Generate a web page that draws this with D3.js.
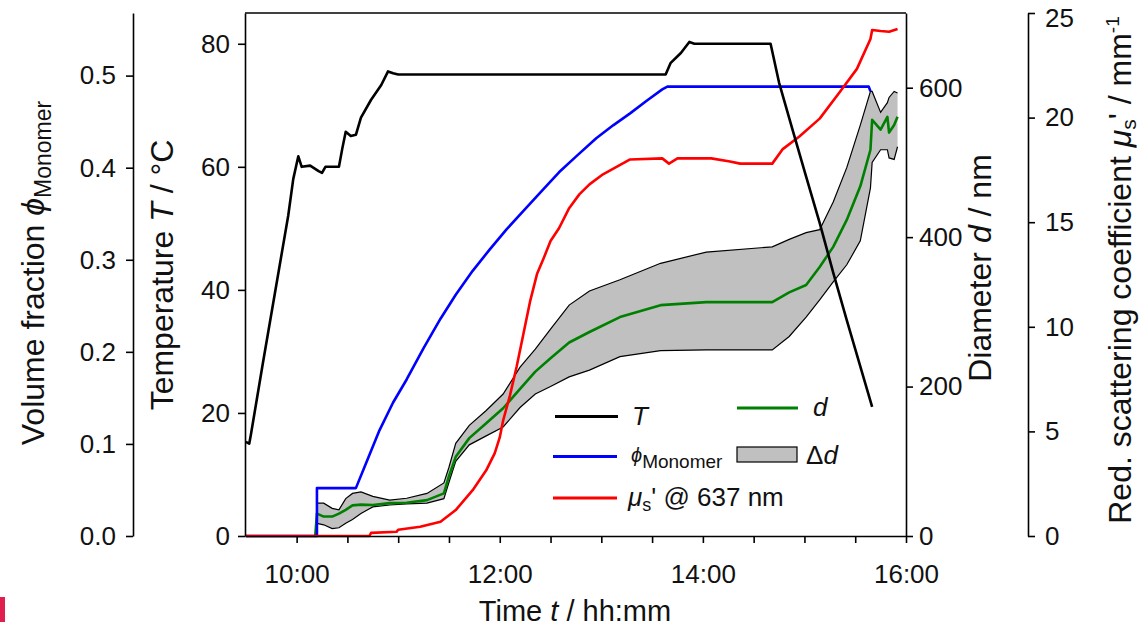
<!DOCTYPE html>
<html><head><meta charset="utf-8">
<script src="https://cdn.jsdelivr.net/npm/d3@7"></script>
<style>
html,body{margin:0;padding:0;background:#fff;}
svg{display:block;font-family:"Liberation Sans",Arial,sans-serif;}
</style></head>
<body><svg id="c" width="1144" height="629"></svg>
<script>
// ---- data (time as hh:mm) ----
const tempTime = ["09:30","09:32","09:33","09:40","09:45","09:50","09:55","09:58","10:00","10:01","10:03","10:08","10:13","10:15","10:17","10:22","10:25","10:27","10:29","10:32","10:35","10:38","10:44","10:50","10:54","10:57","11:00","11:30","12:00","12:30","13:00","13:38","13:41","13:47","13:52","13:55","14:40","14:45","14:53","15:01","15:09","15:17","15:25","15:40"];
const tempValue = [15.3,15.0,16.5,28,36,44,52,58,60.5,61.7,60,60.2,59.3,59.0,60,60,60,63,65.7,65,65.2,68,70.9,73.3,75.5,75.2,75.0,75.0,75.0,75.0,75.0,75.0,76.9,78.5,80.3,80.0,80.0,73.7,66,58.4,50.9,42.8,35.1,21];

const phiTime = ["09:30","10:12","10:12","10:35","10:41","10:49","10:57","11:05","11:15","11:25","11:34","11:44","11:54","12:04","12:14","12:25","12:35","12:45","12:57","13:07","13:17","13:27","13:36","13:39","15:38","15:39"];
const phiValue = [0,0,0.052,0.052,0.079,0.115,0.145,0.170,0.204,0.236,0.262,0.288,0.311,0.333,0.353,0.375,0.395,0.412,0.432,0.446,0.459,0.473,0.485,0.488,0.488,0.483];

const muTime = ["09:30","10:43","10:44","10:59","11:00","11:13","11:25","11:34","11:44","11:52","11:57","12:00","12:02","12:06","12:10","12:14","12:18","12:22","12:26","12:30","12:35","12:41","12:47","12:53","13:01","13:17","13:36","13:40","13:45","14:05","14:16","14:22","14:41","14:47","14:57","15:09","15:21","15:31","15:39","15:40","15:45","15:50","15:55"];
const muValue = [0,0,0.15,0.2,0.3,0.44,0.68,1.24,2.19,3.14,3.95,4.71,5.52,6.71,8.1,9.67,11.24,12.52,13.29,14.1,14.71,15.67,16.33,16.81,17.29,18.0,18.05,17.8,18.05,18.05,17.9,17.8,17.8,18.48,19.1,19.95,21.24,22.33,23.76,24.19,24.14,24.1,24.24];

const dTime = ["10:11","10:12","10:16","10:21","10:25","10:29","10:33","10:38","10:45","10:55","11:05","11:17","11:27","11:30","11:34","11:42","11:52","12:02","12:12","12:21","12:30","12:41","12:53","13:11","13:35","14:02","14:41","14:51","15:01","15:09","15:17","15:25","15:33","15:39","15:40","15:45","15:49","15:50","15:53","15:55"];
const dMean = [0,30,26,26,30,35,41,42,41.5,44,44.6,48,57,80,106,131,151,171,197,220,238,259,273,293,309,313,313,326,336,360,387,423,468,517,557,544,561,540,550,561];
const dLow  = [null,17,15,10,11,17,22,30,39,41.5,43,44,50,72,100,122,134,146,172,190,200,213,222,240,248,249,249,267,293,316,340,363,395,466,500,517,517,506,504,521];
const dHigh = [null,44,44,37,35,50,57,59,53,48,50.5,57,71,92,124,148,168,190,226,250,277,309,328,343,365,380,387,397,406,410,447,493,550,595,595,567,580,587,595,593];

const xTicks = ["10:00","10:30","11:00","11:30","12:00","12:30","13:00","13:30","14:00","14:30","15:00","15:30","16:00"];
const xLabels = ["10:00","12:00","14:00","16:00"];
const phiTicks = [0,0.1,0.2,0.3,0.4,0.5];
const tempTicks = [0,20,40,60,80];
const dTicks = [0,200,400,600];
const muTicks = [0,5,10,15,20,25];

// ---- helpers ----
const toMin = s => { const p = s.split(":"); return +p[0]*60 + +p[1]; };
const fmtHM = m => String(Math.floor(m/60)).padStart(2,"0")+":"+String(m%60).padStart(2,"0");

const svg = d3.select("#c");
const L = 245, R = 906, T = 13, B = 536;
const textCol = "#111";

const x = d3.scaleLinear().domain([toMin("09:29")+0.5, toMin("16:00")]).range([L, R]);
const yT = d3.scaleLinear().domain([0,85]).range([B,T]);
const yPhi = d3.scaleLinear().domain([0,0.568]).range([B,T]);
const yD = d3.scaleLinear().domain([0,700]).range([B,T]);
const yMu = d3.scaleLinear().domain([0,25]).range([B,13]);

// ---- band ----
const idx = d3.range(dTime.length);
const band = svg.append("g");
band.append("path").datum(idx)
  .attr("fill","#c0c0c0")
  .attr("d", d3.area().defined(i => dLow[i]!=null)
    .x(i => x(toMin(dTime[i]))).y0(i => yD(dLow[i])).y1(i => yD(dHigh[i])));
[dLow, dHigh].forEach(arr => {
  band.append("path").datum(idx).attr("fill","none").attr("stroke","#000").attr("stroke-width",1.2)
    .attr("d", d3.line().defined(i => arr[i]!=null).x(i => x(toMin(dTime[i]))).y(i => yD(arr[i])));
});

function drawLine(times, vals, yScale, color){
  svg.append("path").datum(d3.range(times.length))
    .attr("fill","none").attr("stroke",color).attr("stroke-width",2.6)
    .attr("stroke-linejoin","round")
    .attr("d", d3.line().x(i => x(toMin(times[i]))).y(i => yScale(vals[i])));
}
drawLine(dTime, dMean, yD, "#008000");
drawLine(phiTime, phiValue, yPhi, "#0000ff");
drawLine(muTime, muValue, yMu, "#ff0000");
drawLine(tempTime, tempValue, yT, "#000000");

// ---- axes ----
function styleAxis(g, fs){
  g.selectAll("path.domain").attr("stroke","#000").attr("stroke-width",1.6);
  g.selectAll(".tick line").attr("stroke","#000").attr("stroke-width",1.6);
  g.selectAll(".tick text").attr("fill",textCol).attr("font-size",fs).attr("font-family","Liberation Sans, Arial, sans-serif");
}
svg.append("line").attr("x1",L).attr("x2",R).attr("y1",T).attr("y2",T).attr("stroke","#000").attr("stroke-width",1.6);

const gx = svg.append("g").attr("transform",`translate(0,${B})`)
  .call(d3.axisBottom(x).tickValues(xTicks.map(toMin)).tickSize(7).tickSizeOuter(0).tickPadding(22)
    .tickFormat(m => xLabels.includes(fmtHM(m)) ? fmtHM(m) : ""));
styleAxis(gx, 26);

const gT = svg.append("g").attr("transform",`translate(${L},0)`)
  .call(d3.axisLeft(yT).tickValues(tempTicks).tickSize(7).tickSizeOuter(0).tickPadding(8));
styleAxis(gT, 26);

const gP = svg.append("g").attr("transform",`translate(133,0)`)
  .call(d3.axisLeft(yPhi).tickValues(phiTicks).tickFormat(d3.format(".1f")).tickSize(7).tickSizeOuter(0).tickPadding(10));
styleAxis(gP, 26);

const gD = svg.append("g").attr("transform",`translate(${R},0)`)
  .call(d3.axisRight(yD).tickValues(dTicks).tickSize(7).tickSizeOuter(0).tickPadding(6));
styleAxis(gD, 26);

const gM = svg.append("g").attr("transform",`translate(1028,0)`)
  .call(d3.axisRight(yMu).tickValues(muTicks).tickSize(7).tickSizeOuter(0).tickPadding(10));
styleAxis(gM, 26);
// keep the top label inside the picture
gM.selectAll(".tick text").filter(d => d === 25).attr("dy","0.5em");

// ---- titles ----
function vTitle(cx, cy, parts, fs){
  const t = svg.append("text").attr("transform",`translate(${cx},${cy}) rotate(-90)`)
    .attr("text-anchor","middle").attr("fill",textCol).attr("font-size",fs);
  parts.forEach(p => {
    const s = t.append("tspan").text(p.t);
    if (p.i) s.attr("font-style","italic");
    if (p.fs) s.attr("font-size",p.fs);
    if (p.dy) s.attr("dy",p.dy);
  });
  return t;
}
vTitle(44, 273, [{t:"Volume fraction "},{t:"ϕ",i:1},{t:"Monomer",fs:23,dy:7}], 32);
vTitle(173, 275, [{t:"Temperature "},{t:"T",i:1},{t:" / °C"}], 32);
vTitle(991, 268, [{t:"Diameter "},{t:"d",i:1},{t:" / nm"}], 32);
vTitle(1131, 270, [{t:"Red. scattering coefficient "},{t:"μ",i:1},{t:"s",fs:21,dy:5},{t:"' / mm",dy:-5},{t:"-1",fs:19,dy:-12}], 32);

const xt = svg.append("text").attr("x",575).attr("y",621).attr("text-anchor","middle").attr("fill",textCol).attr("font-size",29);
xt.append("tspan").text("Time ");
xt.append("tspan").text("t").attr("font-style","italic");
xt.append("tspan").text(" / hh:mm");

// ---- legend ----
const lg = svg.append("g");
function lgLine(x1,x2,y,c){ lg.append("line").attr("x1",x1).attr("x2",x2).attr("y1",y).attr("y2",y).attr("stroke",c).attr("stroke-width",3); }
function lgText(x0,y0,parts){
  const t = lg.append("text").attr("x",x0).attr("y",y0).attr("fill",textCol).attr("font-size",26);
  parts.forEach(p => { const s=t.append("tspan").text(p.t); if(p.i) s.attr("font-style","italic"); if(p.fs) s.attr("font-size",p.fs); if(p.dy) s.attr("dy",p.dy); });
}
lgLine(555,618,416.5,"#000"); lgText(632,425,[{t:"T",i:1}]);
lgLine(553,617,456.5,"#0000ff"); lgText(631,462,[{t:"ϕ",i:1,fs:20},{t:"Monomer",fs:19,dy:6}]);
lgLine(553,617,498,"#ff0000"); lgText(628,506,[{t:"μ",i:1},{t:"s",fs:18,dy:5},{t:"' @ 637 nm",dy:-5}]);
lgLine(737,798,408,"#008000"); lgText(813,416,[{t:"d",i:1}]);
lg.append("rect").attr("x",737).attr("y",447).attr("width",60).attr("height",15).attr("fill","#c0c0c0").attr("stroke","#000").attr("stroke-width",1.2);
lgText(806,464,[{t:"Δ"},{t:"d",i:1}]);

// decorative mark at lower-left
svg.append("rect").attr("x",0).attr("y",597).attr("width",5).attr("height",25).attr("fill","#e01f4f");
</script></body></html>
